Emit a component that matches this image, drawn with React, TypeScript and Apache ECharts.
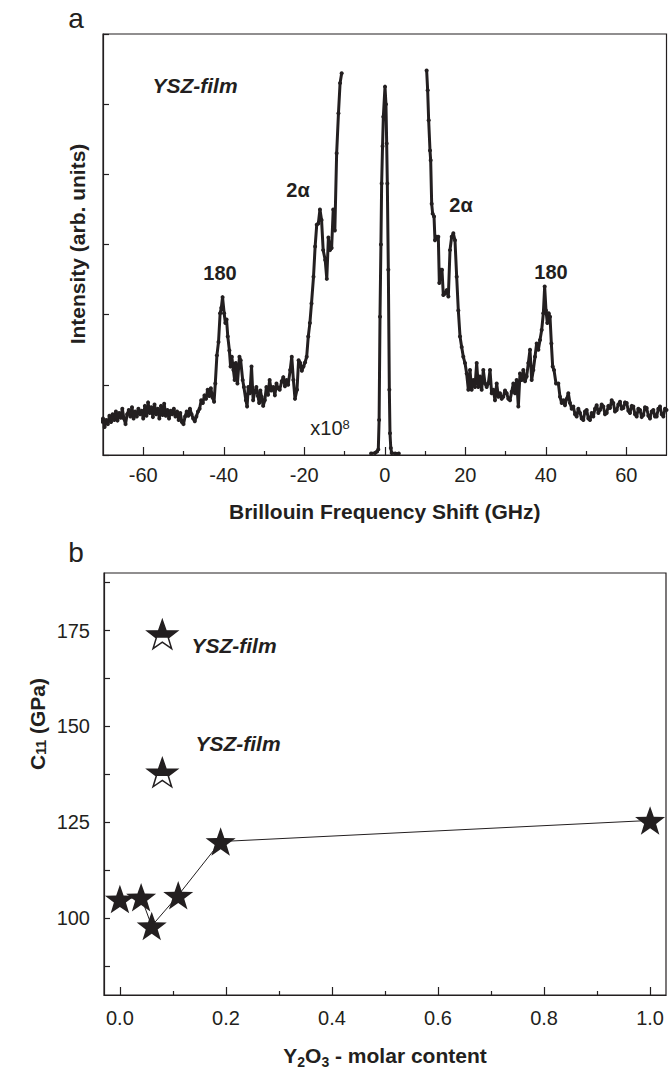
import React, { useEffect, useRef } from "react";
import * as echarts from "echarts";

// ---------- Panel a: Brillouin spectrum ----------
const shiftTicks = [-60, -40, -20, 0, 20, 40, 60];
const shiftMinorTicks = [-50, -30, -10, 10, 30, 50];

const antiStokes: number[][] = [
  [-70.4, 0.45], [-70.0, 0.52], [-69.6, 0.40], [-69.2, 0.50], [-68.8, 0.44], [-68.4, 0.56], [-68.0, 0.47], [-67.6, 0.58],
  [-67.2, 0.50], [-66.8, 0.62], [-66.4, 0.49], [-66.0, 0.60], [-65.6, 0.53], [-65.2, 0.66], [-64.8, 0.52], [-64.4, 0.44],
  [-64.0, 0.58], [-63.6, 0.64], [-63.2, 0.55], [-62.8, 0.68], [-62.4, 0.52], [-62.0, 0.62], [-61.6, 0.55], [-61.2, 0.66],
  [-60.8, 0.58], [-60.4, 0.63], [-60.0, 0.52], [-59.6, 0.70], [-59.2, 0.56], [-58.8, 0.75], [-58.4, 0.60], [-58.0, 0.68],
  [-57.6, 0.54], [-57.2, 0.72], [-56.8, 0.58], [-56.4, 0.66], [-56.0, 0.52], [-55.6, 0.70], [-55.2, 0.57], [-54.8, 0.73],
  [-54.4, 0.56], [-54.0, 0.64], [-53.6, 0.52], [-53.2, 0.63], [-52.8, 0.58], [-52.4, 0.66], [-52.0, 0.55], [-51.6, 0.62],
  [-51.2, 0.50], [-50.8, 0.60], [-50.4, 0.47], [-50.0, 0.44], [-49.6, 0.55], [-49.2, 0.62], [-48.8, 0.56], [-48.4, 0.66],
  [-48.0, 0.58], [-47.6, 0.52], [-47.2, 0.48], [-46.8, 0.55], [-46.4, 0.62], [-46.0, 0.66], [-45.6, 0.78], [-45.2, 0.74],
  [-44.8, 0.85], [-44.4, 0.80], [-44.0, 0.93], [-43.6, 0.84], [-43.2, 0.95], [-42.8, 0.82], [-42.4, 0.76], [-42.1, 1.02],
  [-41.7, 1.42], [-41.3, 1.61], [-40.9, 2.02], [-40.6, 2.10], [-40.3, 2.25], [-39.9, 2.02], [-39.6, 1.88], [-39.3, 1.93],
  [-39.0, 1.69], [-38.6, 1.49], [-38.3, 1.26], [-38.0, 1.40], [-37.6, 1.21], [-37.3, 1.07], [-37.0, 1.31], [-36.6, 1.02],
  [-36.1, 1.40], [-35.8, 1.35], [-35.3, 1.07], [-35.0, 0.97], [-34.5, 0.78], [-34.2, 0.69], [-33.9, 0.97], [-33.5, 0.88],
  [-33.1, 1.26], [-32.7, 0.78], [-32.3, 0.90], [-31.9, 0.97], [-31.5, 0.84], [-31.2, 0.74], [-30.9, 0.92], [-30.6, 0.83],
  [-30.2, 0.70], [-29.8, 0.78], [-29.4, 0.97], [-29.0, 0.86], [-28.6, 1.07], [-28.2, 0.92], [-27.7, 0.97], [-27.3, 0.85],
  [-26.9, 1.02], [-26.5, 0.95], [-26.1, 0.93], [-25.6, 1.05], [-25.2, 1.11], [-24.8, 0.98], [-24.4, 1.07], [-24.0, 1.00],
  [-23.5, 1.21], [-23.1, 1.40], [-22.7, 1.07], [-22.3, 0.80], [-21.8, 0.93], [-21.4, 1.35], [-21.0, 1.31], [-20.6, 1.20],
  [-20.2, 1.26], [-19.8, 1.32], [-19.4, 1.40], [-19.0, 1.69], [-18.6, 1.88], [-18.2, 2.16], [-17.7, 2.54], [-17.3, 2.97],
  [-16.9, 3.28], [-16.5, 3.30], [-16.1, 3.50], [-15.7, 3.35], [-15.3, 2.92], [-14.8, 2.78], [-14.4, 2.51], [-14.0, 3.10],
  [-13.6, 2.92], [-13.2, 2.95], [-12.8, 3.50], [-12.4, 3.20], [-11.95, 4.30], [-11.5, 4.87], [-11.1, 5.30], [-10.7, 5.44],
];

const laserLine: number[][] = [
  [-3.4, 0.02], [-2.4, 0.03], [-1.9, 0.05], [-1.6, 0.08], [-1.4, 0.5], [-1.18, 1.97], [-0.95, 3.0], [-0.77, 3.87],
  [-0.55, 4.4], [-0.35, 4.82], [0.06, 5.25], [0.3, 5.0], [0.48, 4.44], [0.64, 3.87], [0.89, 2.64], [1.14, 0.93],
  [1.3, 0.31], [1.5, 0.1], [1.72, 0.03], [2.6, 0.02], [3.5, 0.02],
];

const stokes: number[][] = [
  [10.41, 5.48], [10.66, 5.20], [10.91, 4.77], [11.24, 4.34], [11.41, 4.20], [11.66, 3.58], [11.90, 3.44], [12.24, 3.40],
  [12.48, 3.06], [12.90, 3.11], [13.31, 3.11], [13.56, 2.45], [13.89, 2.64], [14.22, 2.64], [14.55, 2.28], [14.97, 2.30],
  [15.38, 2.35], [15.80, 2.26], [16.21, 2.92], [16.63, 3.11], [17.04, 3.16], [17.45, 3.06], [17.87, 2.54], [18.28, 2.06],
  [18.70, 1.69], [19.11, 1.54], [19.52, 1.40], [19.94, 1.31], [20.35, 1.16], [20.77, 0.93], [21.18, 1.21], [21.59, 0.93],
  [22.01, 1.07], [22.42, 0.97], [22.84, 1.31], [23.25, 0.97], [23.66, 1.12], [24.08, 0.93], [24.49, 1.21], [24.91, 1.02],
  [25.32, 0.97], [25.73, 1.02], [26.15, 1.21], [26.56, 0.88], [26.98, 0.93], [27.39, 0.78], [27.81, 1.02], [28.22, 0.83],
  [28.63, 0.88], [29.05, 0.80], [29.46, 0.83], [29.88, 0.92], [30.29, 0.88], [30.70, 0.80], [31.12, 0.78], [31.53, 0.90],
  [31.95, 1.02], [32.36, 0.88], [32.77, 1.07], [33.19, 0.69], [33.60, 1.16], [34.02, 1.07], [34.43, 1.21], [34.85, 1.05],
  [35.26, 1.12], [35.67, 1.31], [36.09, 1.50], [36.50, 1.07], [36.91, 1.21], [37.33, 1.40], [37.74, 1.59], [38.16, 1.50],
  [38.57, 1.64], [38.99, 1.78], [39.40, 2.02], [39.73, 2.40], [40.06, 2.06], [40.39, 1.88], [40.73, 2.02], [41.06, 1.97],
  [41.39, 1.59], [41.72, 1.26], [42.05, 1.21], [42.55, 1.02], [43.13, 1.02], [43.54, 0.83], [43.96, 0.74], [44.37, 0.78],
  [44.78, 0.71], [45.20, 0.80], [45.61, 0.88], [46.02, 0.74], [46.44, 0.66], [46.85, 0.69], [47.27, 0.58], [47.68, 0.55],
  [48.10, 0.66], [48.51, 0.60], [48.92, 0.52], [49.34, 0.50], [49.75, 0.62], [50.17, 0.64], [50.58, 0.52], [50.99, 0.50],
  [51.41, 0.60], [51.82, 0.55], [52.24, 0.66], [52.65, 0.71], [53.07, 0.60], [53.48, 0.64], [53.89, 0.72], [54.31, 0.69],
  [54.72, 0.58], [55.14, 0.60], [55.55, 0.70], [55.96, 0.67], [56.38, 0.78], [56.79, 0.74], [57.20, 0.62], [57.62, 0.64],
  [58.03, 0.72], [58.45, 0.76], [58.86, 0.66], [59.28, 0.67], [59.69, 0.75], [60.11, 0.74], [60.52, 0.63], [60.93, 0.60],
  [61.35, 0.70], [61.76, 0.69], [62.17, 0.58], [62.59, 0.55], [63.00, 0.66], [63.42, 0.64], [63.83, 0.54], [64.25, 0.57],
  [64.66, 0.68], [65.07, 0.67], [65.49, 0.56], [65.90, 0.52], [66.32, 0.62], [66.73, 0.64], [67.14, 0.55], [67.56, 0.55],
  [67.97, 0.66], [68.39, 0.69], [68.80, 0.58], [69.22, 0.55], [69.63, 0.66], [70.0, 0.64],
];

// ---------- Panel b: C11 vs Y2O3 molar content ----------
const molarContent = [0.0, 0.04, 0.06, 0.11, 0.19, 1.0];
const c11Bulk = [105, 105.5, 98, 106, 120, 125.5];
const filmContent = [0.08, 0.08];
const c11Film = [174, 138];
const molarTicks = [0, 0.2, 0.4, 0.6, 0.8, 1.0];
const molarMinorTicks = [0.1, 0.3, 0.5, 0.7, 0.9];
const c11LabelTicks = [100, 125, 150, 175];
const c11AllTicks = [87.5, 100, 112.5, 125, 137.5, 150, 162.5, 175, 187.5];

const INK = "#231f20";
const FONT = "'Liberation Sans', Arial, Helvetica, sans-serif";

const STAR =
  "path://M0 -100 L23.5 -32.4 L95.1 -30.9 L38 12.4 L58.8 80.9 L0 40 L-58.8 80.9 L-38 12.4 L-95.1 -30.9 L-23.5 -32.4 Z";
const STAR_TOP =
  "path://M0 -100 L23.5 -32.4 L95.1 -30.9 L38 12.4 L-38 12.4 L-95.1 -30.9 L-23.5 -32.4 Z";
const STAR_W = 30;
const STAR_H = (STAR_W * 180.9) / 190.2;
const STAR_TOP_H = (STAR_H * 112.4) / 180.9;
const STAR_TOP_OFFSET = -((-9.55 + 43.8) * STAR_H) / 180.9;

export default function App() {
  const ref = useRef<HTMLDivElement>(null);

  useEffect(() => {
    if (!ref.current) return;
    const chart = echarts.init(ref.current, undefined, { renderer: "svg" });

    const tickLabel = { fontSize: 20, color: INK, fontFamily: FONT };
    const lineSeries = (data: number[][]) => ({
      type: "line",
      xAxisIndex: 0,
      yAxisIndex: 0,
      data,
      symbol: "circle",
      symbolSize: 4,
      lineStyle: { color: INK, width: 3 },
      itemStyle: { color: INK, opacity: 1 },
      silent: true,
    });

    const text = (x: number, y: number, t: string, extra: any = {}) => ({
      type: "text",
      x,
      y,
      silent: true,
      style: {
        text: t,
        fill: INK,
        fontFamily: FONT,
        fontSize: 20,
        fontWeight: "bold",
        align: "center",
        verticalAlign: "middle",
        ...extra,
      },
    });

    chart.setOption({
      animation: false,
      backgroundColor: "#ffffff",
      grid: [
        { left: 103, top: 34, width: 563.5, height: 421, show: true, borderColor: INK, borderWidth: 1.2, backgroundColor: "transparent" },
        { left: 104, top: 573, width: 562, height: 422, show: true, borderColor: INK, borderWidth: 1.2, backgroundColor: "transparent" },
      ],
      xAxis: [
        {
          gridIndex: 0, type: "value", min: -70, max: 70, position: "bottom",
          axisLine: { show: true, onZero: false, lineStyle: { color: INK, width: 1.2 } },
          axisTick: { show: true, inside: true, length: 8, customValues: shiftTicks, lineStyle: { color: INK, width: 1.2 } },
          axisLabel: { show: true, customValues: shiftTicks, margin: 10, ...tickLabel },
          splitLine: { show: false },
          name: "Brillouin Frequency Shift (GHz)",
          nameLocation: "middle",
          nameGap: 46,
          nameTextStyle: { fontSize: 21, fontWeight: "bold", color: INK, fontFamily: FONT },
        },
        {
          gridIndex: 0, type: "value", min: -70, max: 70, position: "bottom",
          axisLine: { show: false, onZero: false },
          axisTick: { show: true, inside: true, length: 4, customValues: shiftMinorTicks, lineStyle: { color: INK, width: 1.2 } },
          axisLabel: { show: false },
          splitLine: { show: false },
        },
        {
          gridIndex: 1, type: "value", min: -0.03, max: 1.03, position: "bottom",
          axisLine: { show: true, onZero: false, lineStyle: { color: INK, width: 1.2 } },
          axisTick: { show: true, inside: true, length: 8, customValues: molarTicks, lineStyle: { color: INK, width: 1.2 } },
          axisLabel: { show: true, customValues: molarTicks, margin: 13, formatter: (v: number) => v.toFixed(1), ...tickLabel },
          splitLine: { show: false },
          name: "{b|Y}{s|2}{b|O}{s|3}{b| - molar content}",
          nameLocation: "middle",
          nameGap: 46,
          nameTextStyle: {
            color: INK,
            fontFamily: FONT,
            rich: {
              b: { fontSize: 21, fontWeight: "bold", color: INK, fontFamily: FONT, lineHeight: 28, verticalAlign: "middle" },
              s: { fontSize: 14, fontWeight: "bold", color: INK, fontFamily: FONT, lineHeight: 14, verticalAlign: "bottom" },
            },
          },
        },
        {
          gridIndex: 1, type: "value", min: -0.03, max: 1.03, position: "bottom",
          axisLine: { show: false, onZero: false },
          axisTick: { show: true, inside: true, length: 4, customValues: molarMinorTicks, lineStyle: { color: INK, width: 1.2 } },
          axisLabel: { show: false },
          splitLine: { show: false },
        },
      ],
      yAxis: [
        {
          gridIndex: 0, type: "value", min: 0, max: 6, interval: 1, position: "left",
          axisLine: { show: true, onZero: false, lineStyle: { color: INK, width: 1.2 } },
          axisTick: { show: true, inside: true, length: 6, lineStyle: { color: INK, width: 1.2 } },
          axisLabel: { show: false },
          splitLine: { show: false },
        },
        {
          gridIndex: 1, type: "value", min: 80, max: 190, position: "left",
          axisLine: { show: true, onZero: false, lineStyle: { color: INK, width: 1.2 } },
          axisTick: { show: true, inside: true, length: 6, customValues: c11AllTicks, lineStyle: { color: INK, width: 1.2 } },
          axisLabel: { show: true, customValues: c11LabelTicks, margin: 14, ...tickLabel },
          splitLine: { show: false },
        },
      ],
      series: [
        lineSeries(antiStokes),
        lineSeries(laserLine),
        lineSeries(stokes),
        {
          type: "line",
          name: "bulk",
          xAxisIndex: 2,
          yAxisIndex: 1,
          data: molarContent.map((x, i) => [x, c11Bulk[i]]),
          symbol: STAR,
          symbolSize: [STAR_W, STAR_H],
          lineStyle: { color: INK, width: 1 },
          itemStyle: { color: INK, opacity: 1 },
          silent: true,
          z: 3,
        },
        {
          type: "scatter",
          name: "film",
          xAxisIndex: 2,
          yAxisIndex: 1,
          data: filmContent.map((x, i) => [x, c11Film[i]]),
          symbol: STAR,
          symbolSize: [STAR_W, STAR_H],
          itemStyle: { color: "#ffffff", borderColor: INK, borderWidth: 1.5, opacity: 1 },
          silent: true,
          z: 4,
        },
        {
          type: "scatter",
          name: "film-top",
          xAxisIndex: 2,
          yAxisIndex: 1,
          data: filmContent.map((x, i) => [x, c11Film[i]]),
          symbol: STAR_TOP,
          symbolSize: [STAR_W, STAR_TOP_H],
          symbolOffset: [0, STAR_TOP_OFFSET],
          itemStyle: { color: INK, opacity: 1 },
          silent: true,
          z: 5,
        },
      ],
      graphic: [
        text(76, 18, "a", { fontSize: 28, fontWeight: "normal" }),
        text(76, 552, "b", { fontSize: 28, fontWeight: "normal" }),
        { ...text(77, 244, "Intensity (arb. units)", { fontSize: 21 }), rotation: Math.PI / 2 },
        {
          ...text(37, 724, "C{s|11} (GPa)", {
            fontSize: 21,
            rich: {
              s: { fontSize: 14, fontWeight: "bold", fill: INK, fontFamily: FONT, lineHeight: 14, verticalAlign: "bottom" },
            },
          }),
          rotation: Math.PI / 2,
        },
        text(195, 85, "YSZ-film", { fontSize: 21, fontStyle: "italic" }),
        text(220, 273, "180"),
        text(298, 190, "2α"),
        text(461, 205, "2α"),
        text(551, 272, "180"),
        text(330, 428, "x10{sup|8}", {
          fontWeight: "normal",
          rich: { sup: { fontSize: 13, fill: INK, fontFamily: FONT, lineHeight: 13, verticalAlign: "top" } },
        }),
        text(234, 645, "YSZ-film", { fontSize: 21, fontStyle: "italic" }),
        text(238, 743, "YSZ-film", { fontSize: 21, fontStyle: "italic" }),
      ],
    });

    return () => chart.dispose();
  }, []);

  return (
    <div
      ref={ref}
      style={{ position: "absolute", left: 0, top: 0, width: 669, height: 1070, background: "#fff" }}
    />
  );
}
